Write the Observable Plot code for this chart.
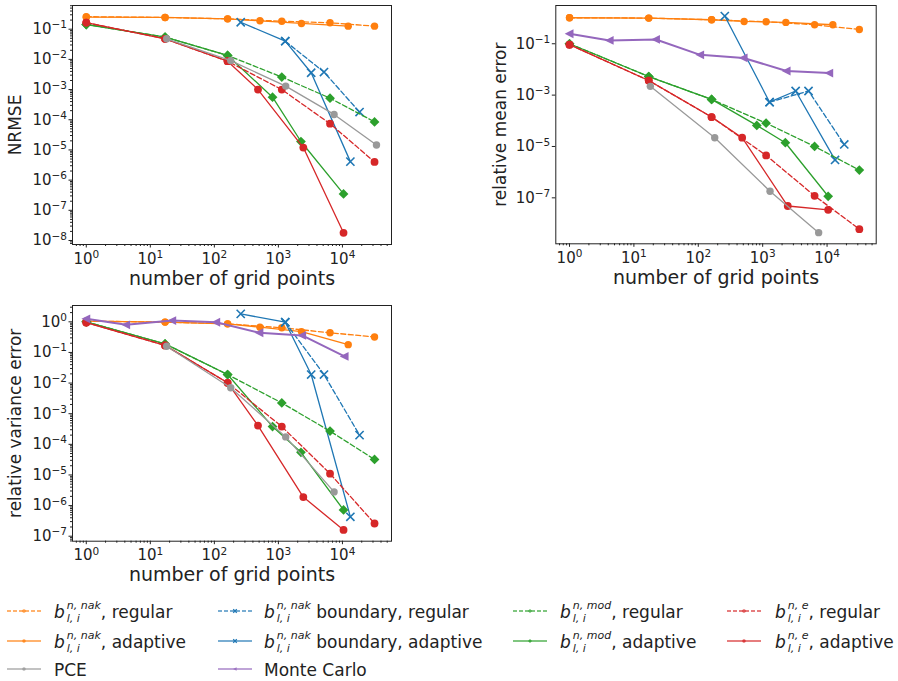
<!DOCTYPE html>
<html><head><meta charset="utf-8">
<script src="https://cdn.jsdelivr.net/npm/d3@7"></script>
<script src="https://cdn.jsdelivr.net/npm/@observablehq/plot@0.6"></script>
<style>
body{margin:0;background:#fff;font-family:"DejaVu Sans",sans-serif;color:#222}
#root{position:relative;width:898px;height:681px;overflow:hidden;background:#fff}
.panel{position:absolute;overflow:visible}
.leg{position:absolute;font-size:17px;white-space:pre;line-height:30px;height:30px}
.sw{position:absolute}
.m{display:inline-flex;align-items:center;vertical-align:middle}
.m i{font-style:italic;font-size:17px;line-height:20px;padding-right:1px}
.ss{display:inline-flex;flex-direction:column;font-size:11px;line-height:13px;margin-left:1px;font-style:italic}
.t{vertical-align:middle}
</style></head><body><div id="root"></div>
<script>
// ---- x values (number of grid points) ----
const X_NAK_REG = [1, 17, 161, 1130, 6400, 31700];
const X_NAK_AD  = [1, 17, 161, 515, 2290, 12300];
const X_BND_REG = [1280, 5150, 18500];
const X_BND_AD  = [258, 1280, 3250, 13300];
const X_MOD_REG = [1, 17, 161, 1130, 6400, 31700];
const X_MOD_AD  = [1, 17, 161, 810, 2250, 10400];
const X_E_REG   = [1, 17, 161, 1130, 6400, 31700];
const X_E_AD    = [1, 17, 161, 480, 2450, 10400];
const X_PCE     = [18, 180, 1300, 7400, 34000];
const X_MC      = [1, 4.2, 22, 107, 505, 2350, 10800];

// ---- NRMSE ----
const NRMSE_NAK_REG = [0.26, 0.245, 0.22, 0.184, 0.163, 0.126];
const NRMSE_NAK_AD  = [0.25, 0.245, 0.22, 0.19, 0.155, 0.126];
const NRMSE_BND_REG = [0.040, 0.0038, 1.8e-4];
const NRMSE_BND_AD  = [0.17, 0.040, 0.0036, 4.1e-6];
const NRMSE_MOD_REG = [0.143, 0.055, 0.0135, 2.6e-3, 5.2e-4, 8.5e-5];
const NRMSE_MOD_AD  = [0.143, 0.055, 0.0135, 5.6e-4, 1.9e-5, 3.5e-7];
const NRMSE_E_REG   = [0.166, 0.048, 0.0087, 1.0e-3, 7.4e-5, 4.0e-6];
const NRMSE_E_AD    = [0.166, 0.048, 0.0087, 1.0e-3, 1.2e-5, 1.8e-8];
const NRMSE_PCE     = [0.048, 9.1e-3, 1.3e-3, 1.5e-4, 1.45e-5];

// ---- relative mean error ----
const MEAN_NAK_REG = [1.03, 1.0, 0.86, 0.72, 0.55, 0.36];
const MEAN_NAK_AD  = [1.03, 1.0, 0.86, 0.74, 0.68, 0.55];
const MEAN_BND_REG = [5.3e-4, 1.45e-3, 1.2e-5];
const MEAN_BND_AD  = [1.2, 5.3e-4, 1.45e-3, 3.0e-6];
const MEAN_MOD_REG = [0.1, 5.3e-3, 6.8e-4, 8.1e-5, 1.0e-5, 1.2e-6];
const MEAN_MOD_AD  = [0.1, 5.3e-3, 6.8e-4, 6.6e-5, 1.4e-5, 1.15e-7];
const MEAN_E_REG   = [0.092, 3.7e-3, 1.4e-4, 4.5e-6, 1.2e-7, 6.0e-9];
const MEAN_E_AD    = [0.092, 3.7e-3, 1.4e-4, 2.2e-5, 4.8e-8, 3.4e-8];
const MEAN_PCE     = [2.2e-3, 2.2e-5, 1.8e-7, 4.4e-9];
const MEAN_MC      = [0.245, 0.135, 0.147, 0.037, 0.028, 8.7e-3, 7.2e-3];

// ---- relative variance error ----
const VAR_NAK_REG = [1.05, 0.98, 0.86, 0.64, 0.44, 0.32];
const VAR_NAK_AD  = [1.05, 0.98, 0.86, 0.67, 0.48, 0.18];
const VAR_BND_REG = [0.97, 0.019, 2.0e-4];
const VAR_BND_AD  = [1.82, 0.97, 0.019, 4.3e-7];
const VAR_MOD_REG = [1.0, 0.19, 0.019, 2.25e-3, 2.7e-4, 3.2e-5];
const VAR_MOD_AD  = [1.0, 0.19, 0.019, 3.8e-4, 5.5e-5, 7.2e-7];
const VAR_E_REG   = [0.95, 0.17, 0.0102, 3.8e-4, 1.1e-5, 2.6e-7];
const VAR_E_AD    = [0.95, 0.17, 0.0102, 4.1e-4, 1.9e-6, 1.6e-7];
const VAR_PCE     = [0.16, 7.0e-3, 1.75e-4, 2.8e-6];
const VAR_MC      = [1.25, 0.80, 1.1, 0.97, 0.44, 0.36, 0.074];

// ---- styles ----
const triLeft = {draw(ctx, size) {
  const r = Math.sqrt(size / Math.PI);
  ctx.moveTo(-r * 1.1, 0); ctx.lineTo(r * 0.9, -r); ctx.lineTo(r * 0.9, r); ctx.closePath();
}};
const STYLE = {
  nakReg: {color: "#ff7f0e", dash: true,  symbol: "circle",   r: 3.7, lw: 1.3},
  nakAd:  {color: "#ff7f0e", dash: false, symbol: "circle",   r: 3.7, lw: 1.3},
  bndReg: {color: "#1f77b4", dash: true,  symbol: "times",    r: 3.8, lw: 1.3},
  bndAd:  {color: "#1f77b4", dash: false, symbol: "times",    r: 3.8, lw: 1.3},
  modReg: {color: "#2ca02c", dash: true,  symbol: "diamond2", r: 4.4, lw: 1.3},
  modAd:  {color: "#2ca02c", dash: false, symbol: "diamond2", r: 4.4, lw: 1.3},
  eReg:   {color: "#d62728", dash: true,  symbol: "circle",   r: 3.9, lw: 1.3},
  eAd:    {color: "#d62728", dash: false, symbol: "circle",   r: 3.9, lw: 1.3},
  pce:    {color: "#999999", dash: false, symbol: "circle",   r: 3.7, lw: 1.3},
  mc:     {color: "#9467bd", dash: false, symbol: triLeft,    r: 4.4, lw: 2}
};
const XS = {nakReg: X_NAK_REG, nakAd: X_NAK_AD, bndReg: X_BND_REG, bndAd: X_BND_AD,
  modReg: X_MOD_REG, modAd: X_MOD_AD, eReg: X_E_REG, eAd: X_E_AD, pce: X_PCE, mc: X_MC};
const ORDER = ["nakReg","nakAd","bndReg","bndAd","modReg","modAd","eReg","eAd","pce","mc"];

const pow10 = d => "10^" + String(Math.round(Math.log10(d))).replace("-", "\u2212");
const decades = (a, b, step = 1) => d3.range(a, b + 1, step).map(k => 10 ** k);
function minor(lo, hi) {
  const out = [];
  for (let k = Math.floor(lo); k <= Math.ceil(hi); k++)
    for (let m = 2; m <= 9; m++) { const v = m * 10 ** k; if (Math.log10(v) >= lo && Math.log10(v) <= hi) out.push(v); }
  return out;
}

function seriesMarks(key, ys) {
  if (!ys) return [];
  const s = STYLE[key], xs = XS[key];
  const d = ys.map((y, i) => ({x: xs[i], y}));
  const isX = s.symbol === "times";
  return [
    Plot.line(d, {x: "x", y: "y", stroke: s.color, strokeWidth: s.lw, strokeDasharray: s.dash ? "5,2.5" : undefined}),
    Plot.dot(d, {x: "x", y: "y", symbol: s.symbol, r: s.r, fill: isX ? "none" : s.color, stroke: isX ? s.color : "none", strokeWidth: 1.6})
  ];
}

function panel(o) {
  const xlo = Math.log10(o.xdom[0]), xhi = Math.log10(o.xdom[1]);
  const ylo = Math.log10(o.ydom[0]), yhi = Math.log10(o.ydom[1]);
  const marks = [];
  for (const k of ORDER) marks.push(...seriesMarks(k, o.series[k]));
  marks.push(
    Plot.frame({stroke: "#222", strokeWidth: 1}),
    Plot.axisX({ticks: decades(0, 4), tickFormat: pow10, tickSize: 3.5, tickPadding: 5, label: null, stroke: "#222", fill: "#222"}),
    Plot.axisX({ticks: minor(xlo, xhi), text: null, tickSize: 2, label: null, stroke: "#222"}),
    Plot.axisY({ticks: o.yMajor, tickFormat: pow10, tickSize: 3.5, tickPadding: 2, label: null, stroke: "#222", fill: "#222"}),
    Plot.text(["number of grid points"], {text: d => d, frameAnchor: "bottom", dy: 34, fontSize: 19, fill: "#222", textAnchor: "middle", lineAnchor: "middle"}),
    Plot.text([o.ylabel], {text: d => d, frameAnchor: "left", dx: o.ylabelDx, rotate: -90, fontSize: 17, fill: "#222", textAnchor: "middle", lineAnchor: "middle"})
  );
  if (o.yMinor) marks.push(Plot.axisY({ticks: minor(ylo, yhi), text: null, tickSize: 2, label: null, stroke: "#222"}));
  const svg = Plot.plot({
    width: o.width, height: o.height,
    marginLeft: o.ml, marginRight: o.mr, marginTop: o.mt, marginBottom: o.mb,
    style: {fontFamily: "DejaVu Sans", fontSize: "15px", background: "transparent", color: "#222", overflow: "visible"},
    x: {type: "log", domain: o.xdom},
    y: {type: "log", domain: o.ydom},
    marks
  });
  // render exponent as a raised, smaller tspan
  svg.querySelectorAll("text").forEach(t => {
    const m = /^10\^(.+)$/.exec(t.textContent);
    if (!m) return;
    t.textContent = "";
    t.setAttribute("font-size", "15");
    const a = document.createElementNS("http://www.w3.org/2000/svg", "tspan");
    a.textContent = "10";
    const b = document.createElementNS("http://www.w3.org/2000/svg", "tspan");
    b.textContent = m[1];
    b.setAttribute("font-size", "10.5");
    b.setAttribute("dy", "-0.55em");
    t.appendChild(a); t.appendChild(b);
  });
  svg.classList.add("panel");
  svg.style.left = o.left + "px"; svg.style.top = o.top + "px";
  document.getElementById("root").appendChild(svg);
}

panel({left: 0, top: 0, width: 400, height: 290, ml: 72, mr: 9, mt: 5, mb: 46,
  xdom: [10 ** -0.215, 10 ** 4.766], ydom: [10 ** -8.133, 10 ** -0.215],
  yMajor: decades(-8, -1), yMinor: true, ylabel: "NRMSE", ylabelDx: -57,
  series: {nakReg: NRMSE_NAK_REG, nakAd: NRMSE_NAK_AD, bndReg: NRMSE_BND_REG, bndAd: NRMSE_BND_AD,
    modReg: NRMSE_MOD_REG, modAd: NRMSE_MOD_AD, eReg: NRMSE_E_REG, eAd: NRMSE_E_AD, pce: NRMSE_PCE}});

panel({left: 450, top: 0, width: 448, height: 290, ml: 105.3, mr: 22.3, mt: 5, mb: 46.7,
  xdom: [10 ** -0.213, 10 ** 4.763], ydom: [10 ** -8.79, 10 ** 0.49],
  yMajor: decades(-7, -1, 2), yMinor: false, ylabel: "relative mean error", ylabelDx: -55,
  series: {nakReg: MEAN_NAK_REG, nakAd: MEAN_NAK_AD, bndReg: MEAN_BND_REG, bndAd: MEAN_BND_AD,
    modReg: MEAN_MOD_REG, modAd: MEAN_MOD_AD, eReg: MEAN_E_REG, eAd: MEAN_E_AD, pce: MEAN_PCE, mc: MEAN_MC}});

panel({left: 0, top: 295, width: 400, height: 295, ml: 72, mr: 9, mt: 10, mb: 49.3,
  xdom: [10 ** -0.215, 10 ** 4.766], ydom: [10 ** -7.163, 10 ** 0.533],
  yMajor: decades(-7, 0), yMinor: true, ylabel: "relative variance error", ylabelDx: -57,
  series: {nakReg: VAR_NAK_REG, nakAd: VAR_NAK_AD, bndReg: VAR_BND_REG, bndAd: VAR_BND_AD,
    modReg: VAR_MOD_REG, modAd: VAR_MOD_AD, eReg: VAR_E_REG, eAd: VAR_E_AD, pce: VAR_PCE, mc: VAR_MC}});

// ---- legend ----
const LEG_KEYS = ["nakReg","bndReg","modReg","eReg","nakAd","bndAd","modAd","eAd","pce","mc"];
const LEG_SUP = {nakReg: "n, nak", nakAd: "n, nak", bndReg: "n, nak", bndAd: "n, nak",
  modReg: "n, mod", modAd: "n, mod", eReg: "n, e", eAd: "n, e"};
const LEG_TEXT = {nakReg: ", regular", nakAd: ", adaptive", bndReg: " boundary, regular", bndAd: " boundary, adaptive",
  modReg: ", regular", modAd: ", adaptive", eReg: ", regular", eAd: ", adaptive", pce: "PCE", mc: "Monte Carlo"};
const colLine = [7, 218, 513, 727], colText = [54, 264, 560, 775], rowY = [611, 641, 669];
const root = document.getElementById("root");
LEG_KEYS.forEach((k, i) => {
  const c = i % 4, r = Math.floor(i / 4), s = STYLE[k];
  const sw = d3.create("svg").attr("width", 34).attr("height", 12).attr("class", "sw")
    .style("left", colLine[c] + "px").style("top", (rowY[r] - 6) + "px");
  sw.append("line").attr("x1", 0).attr("x2", 34).attr("y1", 6).attr("y2", 6)
    .attr("stroke", s.color).attr("stroke-opacity", 0.6).attr("stroke-width", 2)
    .attr("stroke-dasharray", s.dash ? "4,2" : null);
  const sym = typeof s.symbol === "string" ? {circle: d3.symbolCircle, times: d3.symbolTimes, diamond2: d3.symbolDiamond2}[s.symbol] : s.symbol;
  sw.append("path").attr("transform", "translate(17,6)").attr("d", d3.symbol(sym, 10)())
    .attr("fill", s.symbol === "times" ? "none" : s.color).attr("stroke", s.symbol === "times" ? s.color : "none")
    .attr("fill-opacity", 0.8).attr("stroke-width", 1.2);
  root.appendChild(sw.node());
  const div = document.createElement("div");
  div.className = "leg";
  div.style.left = colText[c] + "px"; div.style.top = (rowY[r] - 15) + "px";
  if (LEG_SUP[k]) {
    div.innerHTML = `<span class="m"><i>b</i><span class="ss"><span>${LEG_SUP[k]}</span><span>l, i</span></span></span><span class="t">${LEG_TEXT[k]}</span>`;
  } else {
    div.innerHTML = `<span class="t">${LEG_TEXT[k]}</span>`;
  }
  root.appendChild(div);
});
</script></body></html>
